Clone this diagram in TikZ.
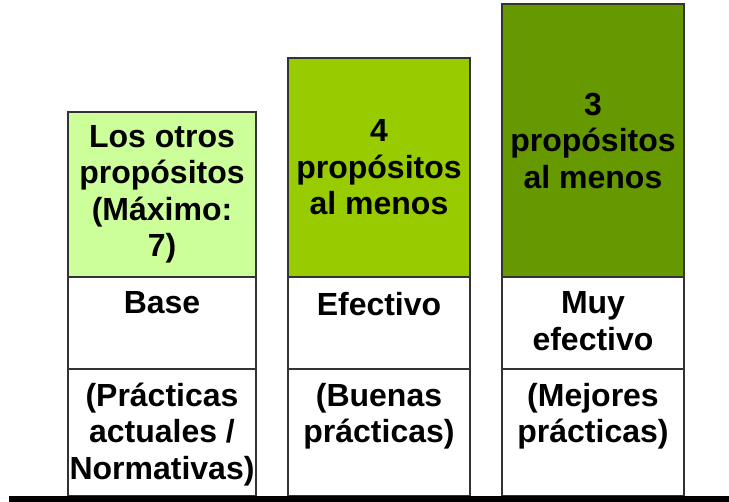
\documentclass[tikz,border=0pt]{standalone}
\usepackage{fontspec}
\setmainfont{Liberation Sans}
\usepackage{xcolor}
\usetikzlibrary{positioning}

\definecolor{verdeclaro}{HTML}{CCFF99}
\definecolor{verdemedio}{HTML}{99CC00}
\definecolor{verdeoscuro}{HTML}{669900}
\definecolor{borde}{HTML}{333333}

\begin{document}
\begin{tikzpicture}[
  x=1pt, y=-1pt,
  every node/.style={font=\bfseries\fontsize{32}{36.5}\selectfont, align=center},
  celda/.style={rectangle, draw=borde, line width=2.5pt, inner sep=0pt},
  textofila/.style={inner sep=0pt}
]
\useasboundingbox (0,0) rectangle (729,502);

% columnas verdes
\node[celda, fill=verdeclaro, minimum width=188pt, minimum height=165pt] (meta1) at (162,194.5)
  {Los otros\\propósitos\\(Máximo:\\7)};
\node[celda, fill=verdemedio, minimum width=182pt, minimum height=219pt] (meta2) at (379,167.5)
  {4\\propósitos\\al menos};
\node[celda, fill=verdeoscuro, minimum width=182pt, minimum height=273pt] (meta3) at (593,140.5)
  {3\\propósitos\\al menos};

% niveles
\node[celda, fill=white, minimum width=188pt, minimum height=92pt] (nivel1) at (162,323) {};
\node[celda, fill=white, minimum width=182pt, minimum height=92pt] (nivel2) at (379,323) {};
\node[celda, fill=white, minimum width=182pt, minimum height=92pt] (nivel3) at (593,323) {};
\node[textofila, below=16pt of nivel1.north] (tnivel1) {Base};
\node[textofila, below=16pt of nivel2.north] (tnivel2) {Efectivo};
\node[textofila, below=16pt of nivel3.north] (tnivel3) {Muy\\efectivo};

% practicas
\node[celda, fill=white, minimum width=188pt, minimum height=127pt] (practica1) at (162,432.5) {};
\node[celda, fill=white, minimum width=182pt, minimum height=127pt] (practica2) at (379,432.5) {};
\node[celda, fill=white, minimum width=182pt, minimum height=127pt] (practica3) at (593,432.5) {};
\node[textofila, below=15pt of practica1.north] (tpractica1) {(Prácticas\\actuales /\\Normativas)};
\node[textofila, below=15pt of practica2.north] (tpractica2) {(Buenas\\prácticas)};
\node[textofila, below=15pt of practica3.north] (tpractica3) {(Mejores\\prácticas)};

% base
\fill[black] (9,496) rectangle (729,502);
\end{tikzpicture}
\end{document}
